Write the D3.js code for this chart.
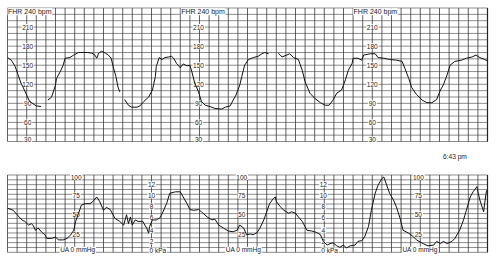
<!DOCTYPE html>
<html><head><meta charset="utf-8">
<script src="https://cdn.jsdelivr.net/npm/d3@7"></script>
<style>html,body{margin:0;padding:0;background:#fff;}svg{display:block;}text{-webkit-font-smoothing:antialiased;}</style>
</head><body>
<svg id="c" width="500" height="259"></svg>
<script>
// ---- data (time in seconds, FHR in bpm, UA in mmHg) ----
const fhrTime = [0,4,8,11,14,16,20,23,27,30,35,38,42,46,50,51,55,58,60,65,69,74,83,88,91,93,95,98,102,105,108,110,113,115,117,119,122,126,129,135,138,142,147,151,154,155,158,161,164,168,171,173,176,180,183,187,190,192,195,199,202,206,211,216,223,227,232,235,238,242,244,247,251,256,261,265,268,272,276,282,286,291,294,298,303,307,310,315,320,326,331,335,339,343,348,352,355,359,360,365,369,371,378,383,386,392,398,405,411,414,418,421,426,432,437,442,447,451,454,458,461,466,473,478,484,488,492,497,500];
const fhrBpm = [162,158,148,135,122,116,103,93,89,86,85,null,95,100,119,129,140,150,161,162,166,170,170,169,166,161,169,172,169,166,161,148,132,116,108,null,96,87,84,84,86,93,100,111,132,148,162,159,162,163,164,161,153,146,152,149,150,140,122,108,93,87,85,82,81,84,86,95,103,119,132,150,159,162,164,168,170,168,null,169,163,166,168,162,159,142,124,106,98,91,87,87,95,106,111,127,142,153,161,161,158,166,168,168,162,161,159,158,156,145,129,115,104,95,91,91,96,111,119,135,150,156,158,161,163,166,162,159,157];
const uaTime = [0,6,10,15,18,22,25,27,29,32,36,39,41,46,50,53,58,62,66,69,71,74,77,81,86,89,93,96,100,103,107,112,117,121,124,126,128,130,133,136,141,143,145,147,148,151,155,159,162,166,169,175,180,183,187,190,194,199,202,208,213,216,220,225,230,235,239,242,246,249,253,256,260,263,267,270,273,277,279,280,284,288,293,296,300,303,307,312,317,322,326,329,333,336,339,343,346,350,353,357,362,365,369,372,376,379,383,386,390,392,395,398,402,405,409,412,418,423,426,433,438,444,447,451,454,458,463,466,471,475,478,482,485,489,490,492,496,497,499];
const uaMmHg = [58,55,49,42,40,35,37,34,28,31,25,22,17,17,19,15,15,17,22,28,40,51,62,64,64,67,73,67,55,59,56,44,40,35,49,37,46,35,42,40,40,35,31,24,33,42,42,45,53,65,78,80,80,73,64,56,55,56,53,46,42,43,35,31,27,26,28,35,31,22,23,22,25,31,42,53,64,71,73,67,60,55,51,53,51,46,40,28,27,25,22,13,8,10,11,7,5,8,4,7,8,13,14,19,33,55,78,89,98,100,89,78,69,60,44,28,24,19,15,10,7,8,13,10,13,10,13,17,28,42,55,73,80,87,80,69,53,64,82];
const fhrTickLabels = [210,180,150,120,90,60,30];
const uaTickLabels = [100,75,50,25];
const kpaTickLabels = [12,10,8,6,4,2];
const fhrTitle = "FHR 240 bpm";
const uaTitle = "UA  0   mmHg";
const kpaTitle = "0 kPa";
const timeLabel = "6:43 pm";

// ---- layout ----
const svg = d3.select("#c");
const font = "'Liberation Sans', Arial, sans-serif";
const x = d3.scaleLinear().domain([0,500]).range([7.5,487.5]);
const yF = d3.scaleLinear().domain([30,240]).range([141.5,8]);
const yU = d3.scaleLinear().domain([0,100]).range([251,177]);
const uaTop = 175, uaBot = 252.3;

const g = svg.append("g");
// top grid
g.append("g").selectAll("line").data(d3.range(30,241,10)).join("line")
  .attr("x1",x(0)).attr("x2",x(500)).attr("y1",d=>yF(d)).attr("y2",d=>yF(d))
  .attr("stroke","#5a5a5a").attr("stroke-width",0.7);
g.append("g").selectAll("line").data(d3.range(0,501,10)).join("line")
  .attr("x1",d=>x(d)).attr("x2",d=>x(d)).attr("y1",yF(240)).attr("y2",yF(30))
  .attr("stroke","#3a3a3a").attr("stroke-width",0.8);
// bottom grid
const ug = d3.scaleLinear().domain([0,16]).range([uaTop,uaBot]);
g.append("g").selectAll("line").data(d3.range(0,17)).join("line")
  .attr("x1",x(0)).attr("x2",x(500)).attr("y1",d=>ug(d)).attr("y2",d=>ug(d))
  .attr("stroke","#5a5a5a").attr("stroke-width",0.7);
g.append("g").selectAll("line").data(d3.range(0,501,10)).join("line")
  .attr("x1",d=>x(d)).attr("x2",d=>x(d)).attr("y1",uaTop).attr("y2",uaBot)
  .attr("stroke","#3a3a3a").attr("stroke-width",0.8);
// right border
g.append("line").attr("x1",x(500)).attr("x2",x(500)).attr("y1",yF(240)).attr("y2",yF(30)).attr("stroke","#222").attr("stroke-width",1.2);
g.append("line").attr("x1",x(500)).attr("x2",x(500)).attr("y1",uaTop).attr("y2",uaBot).attr("stroke","#222").attr("stroke-width",1.2);

function label(parent, txt, px, py, size, anchor, bg) {
  const t = parent.append("text").attr("x",px).attr("y",py).attr("font-family",font)
    .attr("font-size",size).attr("fill","#222").attr("text-anchor",anchor||"middle")
    .attr("dominant-baseline","central").text(txt);
  if (bg) {
    const b = t.node().getBBox();
    parent.insert("rect","text").attr("x",b.x-0.5).attr("y",b.y+0.5).attr("width",b.width+1).attr("height",b.height-1).attr("fill","#fff");
  }
  return t;
}
const lab = svg.append("g").attr("opacity",0.99);
// FHR labels (repeating every 3 minutes)
const fhrLabelT = [21, 199, 380];
const fhrTitleT = [0.5, 181, 360.5];
fhrTitleT.forEach(t => { const gg = lab.append("g"); label(gg, fhrTitle, x(t), 11.2, 7, "start", true); });
fhrLabelT.forEach(t => fhrTickLabels.forEach(v => { const gg = lab.append("g"); label(gg, v, x(t), yF(v)+ (v===30?-2:0), 6.5, "middle", true); }));
// UA labels
const uaLabelT = [71.5, 244, 428];
uaLabelT.forEach(t => {
  uaTickLabels.forEach(v => { const gg = lab.append("g"); label(gg, v, x(t), yU(v)+ (v===25?2:0), 6.5, "middle", true); });
  const gg = lab.append("g"); label(gg, uaTitle, x(t)-16, 249.8, 6.5, "start", true);
});
const kpaLabelT = [150, 329];
kpaLabelT.forEach(t => {
  kpaTickLabels.forEach(v => { const gg = lab.append("g"); label(gg, v, x(t), yU(v*7.5)+ (v<=4?1.5:0), 6.5, "middle", true); });
  const gg = lab.append("g"); label(gg, kpaTitle, x(t)-2, 250.5, 6.5, "start", true);
});
label(lab, timeLabel, 443, 156, 6.6, "start", false);

// traces
const fhrData = fhrTime.map((t,i)=>({t, v: fhrBpm[i]}));
const uaData = uaTime.map((t,i)=>({t, v: uaMmHg[i]}));
svg.append("path").datum(fhrData)
  .attr("d", d3.line().defined(d=>d.v!=null).x(d=>x(d.t)).y(d=>yF(d.v)))
  .attr("fill","none").attr("stroke","#111").attr("stroke-width",1);
svg.append("path").datum(uaData)
  .attr("d", d3.line().x(d=>x(d.t)).y(d=>yU(d.v)))
  .attr("fill","none").attr("stroke","#111").attr("stroke-width",1);
</script>
</body></html>
